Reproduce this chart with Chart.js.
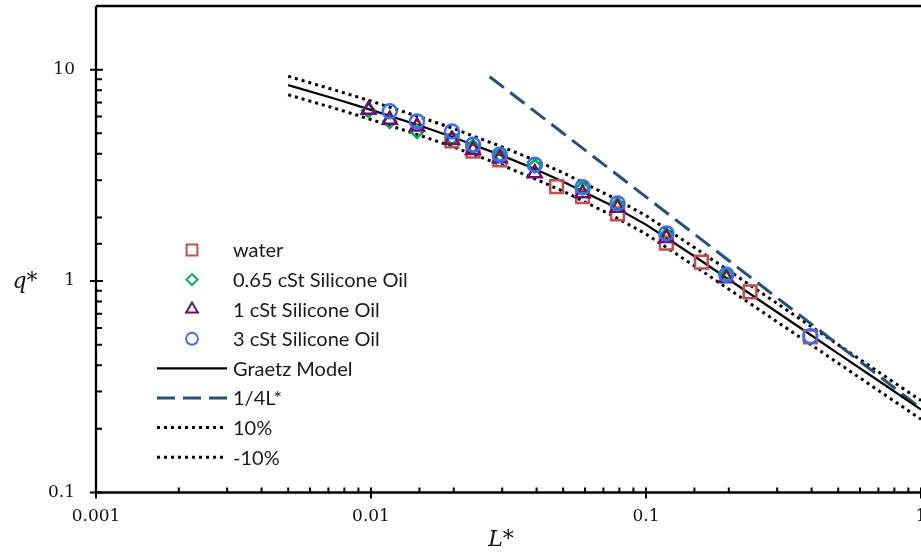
<!DOCTYPE html>
<html>
<head>
<meta charset="utf-8">
<script src="https://cdn.jsdelivr.net/npm/chart.js@4.4.0/dist/chart.umd.min.js"></script>
<style>
  html, body { margin: 0; padding: 0; background: #fff; overflow: hidden; }
  #wrap { width: 921px; height: 555px; }
</style>
</head>
<body>
<div id="wrap"><canvas id="chart"></canvas></div>
<script>
// measured points
const waterL = [0.0197, 0.0235, 0.0294, 0.0473, 0.0588, 0.0788, 0.1186, 0.159, 0.239, 0.396];
const waterQ = [4.6, 4.12, 3.74, 2.80, 2.51, 2.08, 1.51, 1.23, 0.888, 0.545];
const oil065L = [0.0098, 0.0117, 0.0147, 0.0197, 0.0235, 0.0294, 0.0394, 0.0588, 0.0788, 0.1186, 0.196];
const oil065Q = [6.4, 5.69, 5.1, 4.74, 4.33, 3.95, 3.5, 2.76, 2.3, 1.65, 1.07];
const oil1L = [0.0098, 0.0117, 0.0147, 0.0197, 0.0235, 0.0294, 0.0394, 0.0588, 0.0788, 0.1186, 0.196];
const oil1Q = [6.46, 5.79, 5.38, 4.66, 4.17, 3.81, 3.24, 2.60, 2.22, 1.6, 1.03];
const oil3L = [0.0117, 0.0147, 0.0197, 0.0235, 0.0294, 0.0394, 0.0588, 0.0788, 0.1186, 0.196, 0.396];
const oil3Q = [6.35, 5.69, 5.10, 4.41, 3.96, 3.55, 2.78, 2.33, 1.68, 1.07, 0.549];

// model curves
const modelL = [0.005, 0.0075, 0.01, 0.015, 0.02, 0.03, 0.04, 0.05, 0.075, 0.1, 0.15, 0.2, 0.3, 0.4, 0.5, 0.75, 1];
const graetzQ = [8.45, 7.24, 6.45, 5.44, 4.78, 3.92, 3.36, 2.95, 2.275, 1.85, 1.31, 1.017, 0.712, 0.553, 0.454, 0.318, 0.247];
const plus10Q = [9.30, 7.96, 7.10, 5.98, 5.26, 4.31, 3.70, 3.25, 2.50, 2.04, 1.44, 1.12, 0.783, 0.608, 0.50, 0.35, 0.272];
const minus10Q = [7.61, 6.52, 5.81, 4.90, 4.30, 3.53, 3.02, 2.66, 2.05, 1.67, 1.18, 0.915, 0.641, 0.498, 0.409, 0.286, 0.222];
const asymL = [0.027, 1];
const asymQ = [9.26, 0.25];

const xTickLabels = ["0.001", "0.01", "0.1", "1"];
const yTickLabels = ["0.1", "1", "10"];

const pts = (xs, ys) => xs.map((x, i) => ({ x: x, y: ys[i] }));

function tickText(labels) {
  return function (value) {
    const hit = labels.find(l => Math.abs(Number(l) - value) < value * 1e-6);
    return hit || "";
  };
}

function isMajor(v) {
  const l = Math.log10(v);
  return Math.abs(l - Math.round(l)) < 1e-6;
}

const marker = (label, style, color, r, order, xs, ys) => ({
  label: label,
  data: pts(xs, ys),
  pointStyle: style,
  pointRadius: r,
  pointHoverRadius: r,
  pointBorderWidth: 2.5,
  borderColor: color,
  backgroundColor: "rgba(0,0,0,0)",
  showLine: false,
  order: order
});

const curve = (label, ys, xs, color, width, dash, order) => ({
  label: label,
  data: pts(xs, ys),
  showLine: true,
  borderColor: color,
  borderWidth: width,
  borderDash: dash,
  pointRadius: 0,
  fill: false,
  order: order
});

const datasets = [
  marker("water", "rect", "#c0504d", 9, 3, waterL, waterQ),
  marker("0.65 cSt Silicone Oil", "rectRot", "#00b050", 6.5, 2, oil065L, oil065Q),
  marker("1 cSt Silicone Oil", "triangle", "#6d0f6f", 8, 1, oil1L, oil1Q),
  marker("3 cSt Silicone Oil", "circle", "#3b6cf6", 7, 0, oil3L, oil3Q),
  curve("Graetz Model", graetzQ, modelL, "#000", 2.2, [], 4),
  curve("1/4L*", asymQ, asymL, "#24507f", 3, [18, 8], 5),
  curve("10%", plus10Q, modelL, "#000", 3, [3, 4], 6),
  curve("-10%", minus10Q, modelL, "#000", 3, [3, 4], 7)
];

const framePlugin = {
  id: "frame",
  afterDraw(chart) {
    const ctx = chart.ctx;
    const a = chart.chartArea;
    const xs = chart.scales.x, ys = chart.scales.y;
    ctx.save();
    ctx.strokeStyle = "#000";
    ctx.lineWidth = 2.3;
    ctx.beginPath();
    ctx.moveTo(a.left, a.top); ctx.lineTo(a.right + 2, a.top);
    ctx.moveTo(a.left, a.top); ctx.lineTo(a.left, a.bottom);
    ctx.moveTo(a.left - 1, a.bottom); ctx.lineTo(a.right + 2, a.bottom);
    ctx.stroke();

    ctx.lineWidth = 2;
    ctx.beginPath();
    xs.ticks.forEach(t => {
      const px = xs.getPixelForValue(t.value);
      if (isMajor(t.value)) { ctx.moveTo(px, a.bottom - 5); ctx.lineTo(px, a.bottom + 6); }
      else { ctx.moveTo(px, a.bottom - 5); ctx.lineTo(px, a.bottom); }
    });
    ys.ticks.forEach(t => {
      if (t.value > 10.001) return;
      const py = ys.getPixelForValue(t.value);
      if (isMajor(t.value)) { ctx.moveTo(a.left - 6, py); ctx.lineTo(a.left + 7, py); }
      else { ctx.moveTo(a.left, py); ctx.lineTo(a.left + 6, py); }
    });
    ctx.stroke();

    // axis titles
    ctx.fillStyle = "#111";
    ctx.font = "italic 22px 'DejaVu Serif'";
    ctx.textAlign = "center";
    ctx.textBaseline = "middle";
    ctx.fillText("q*", 25, 282);
    ctx.fillText("L*", 501, 540);

    // legend inside the plot
    const lx = a.left, ly = a.top;
    ctx.font = "20px Lato";
    ctx.textAlign = "left";
    chart.data.datasets.forEach((ds, i) => {
      const y = ly + 244 + i * 29.6;
      ctx.save();
      if (ds.showLine) {
        ctx.strokeStyle = ds.borderColor;
        ctx.lineWidth = ds.borderWidth;
        ctx.setLineDash(ds.borderDash);
        ctx.beginPath();
        ctx.moveTo(lx + 61, y); ctx.lineTo(lx + 131, y);
        ctx.stroke();
      } else {
        ctx.strokeStyle = ds.borderColor;
        ctx.fillStyle = "rgba(0,0,0,0)";
        Chart.helpers.drawPoint(ctx, {
          pointStyle: ds.pointStyle, radius: ds.pointRadius * 0.85,
          borderWidth: ds.pointBorderWidth, rotation: 0
        }, lx + 96, y);
      }
      ctx.restore();
      ctx.fillStyle = "#1a1a1a";
      ctx.fillText(ds.label, lx + 137, y + 1);
    });
    ctx.restore();
  }
};

new Chart(document.getElementById("chart"), {
  type: "scatter",
  data: { datasets: datasets },
  options: {
    responsive: true,
    maintainAspectRatio: false,
    animation: false,
    layout: { autoPadding: false, padding: { left: 0, right: 0, top: 6, bottom: 0 } },
    plugins: { legend: { display: false }, tooltip: { enabled: false } },
    scales: {
      x: {
        type: "logarithmic",
        min: 0.001,
        max: 1,
        grid: { display: false, drawTicks: false },
        border: { display: false },
        ticks: {
          autoSkip: false, maxRotation: 0, padding: 14,
          color: "#111", font: { family: "DejaVu Serif", size: 17 },
          callback: tickText(xTickLabels)
        },
        afterFit(s) { s.height = 62.5; s.paddingLeft = 0; s.paddingRight = 0; }
      },
      y: {
        type: "logarithmic",
        min: 0.1,
        max: 20,
        grid: { display: false, drawTicks: false },
        border: { display: false },
        ticks: {
          autoSkip: false, padding: 21,
          color: "#111", font: { family: "DejaVu Serif", size: 17 },
          callback: tickText(yTickLabels)
        },
        afterFit(s) { s.width = 96; s.paddingTop = 0; s.paddingBottom = 0; }
      }
    }
  },
  plugins: [framePlugin]
});
</script>
</body>
</html>
